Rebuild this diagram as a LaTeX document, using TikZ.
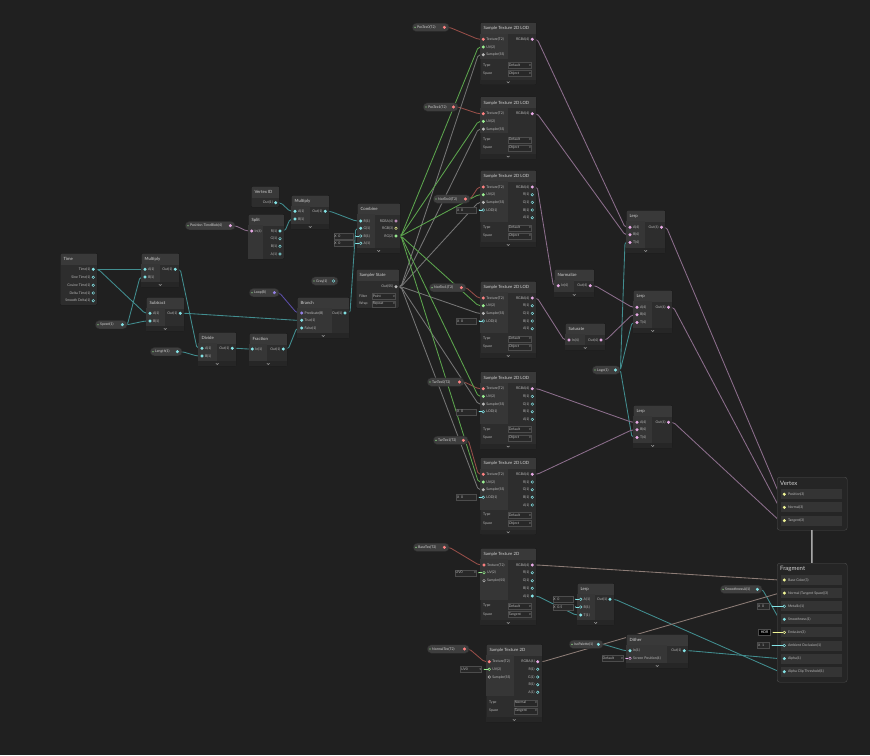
\documentclass[tikz,border=0pt]{standalone}
\usepackage{fontspec}
\setmainfont{Lato}
\newfontfamily\symfont{DejaVu Sans}
\usetikzlibrary{positioning}

\definecolor{bgcol}{RGB}{32,32,32}
\definecolor{nodebody}{RGB}{45,45,45}
\definecolor{nodehead}{RGB}{57,57,57}
\definecolor{inarea}{RGB}{54,54,54}
\definecolor{footfill}{RGB}{38,38,38}
\definecolor{labelgray}{RGB}{185,185,185}
\definecolor{titlegray}{RGB}{210,210,210}
\definecolor{pillfill}{RGB}{62,62,62}
\definecolor{fieldfill}{RGB}{40,40,40}
\definecolor{stackfill}{RGB}{37,37,37}
\definecolor{rowfill}{RGB}{52,52,52}
% port colours
\definecolor{pteal}{RGB}{132,228,231}
\definecolor{ppink}{RGB}{232,170,230}
\definecolor{pgreen}{RGB}{154,239,146}
\definecolor{pyel}{RGB}{240,245,150}
\definecolor{pred}{RGB}{255,130,130}
\definecolor{pgray}{RGB}{185,185,185}
\definecolor{ppurp}{RGB}{148,129,230}
% wire colours
\definecolor{wteal}{RGB}{66,142,144}
\definecolor{wpink}{RGB}{140,110,140}
\definecolor{wgreen}{RGB}{92,165,78}
\definecolor{wgray}{RGB}{118,118,118}
\definecolor{wred}{RGB}{150,78,72}
\definecolor{wpurp}{RGB}{92,78,168}
\definecolor{wolive}{RGB}{140,138,96}

\newcommand{\portfont}{\fontsize{3.5}{4}\selectfont}
\newcommand{\titlefont}{\fontsize{4.3}{5}\selectfont}
\newcommand{\stackfont}{\fontsize{6}{7}\selectfont}
\newcommand{\dropmark}{{\symfont\fontsize{2.8}{3}\selectfont ▾}}

\pgfdeclarelayer{back}
\pgfdeclarelayer{wires}
\pgfsetlayers{back,wires,main}

\tikzset{
  sgbody/.style={draw=black!90, fill=nodebody, inner sep=0pt, rounded corners=1.2pt, line width=0.4pt},
  sghead/.style={fill=nodehead, inner sep=0pt, minimum height=11},
  sgtitle/.style={font=\titlefont, text=titlegray, inner sep=0pt},
  port/.style={circle, fill=#1, draw=#1, line width=0.45pt, inner sep=0pt, minimum size=2.6},
  hport/.style={port=#1, fill=nodebody},
  plbl/.style={font=\portfont, text=labelgray, inner sep=0pt},
  pill/.style={rounded corners=4, fill=pillfill, draw=black!85, line width=0.4pt, minimum height=8.5, inner sep=0pt},
  field/.style={fill=fieldfill, draw=black!70, line width=0.3pt, inner sep=0.6pt, minimum height=6, font=\portfont, text=labelgray},
  stack/.style={fill=stackfill, draw=black!70, rounded corners=2.5pt, inner sep=0pt},
  row/.style={fill=rowfill, minimum width=60.5, minimum height=10, inner sep=0pt},
  wire/.style={draw=#1, line width=0.85pt, rounded corners=2pt,
    to path={-- ++(5,0) -- ([xshift=-5pt]\tikztotarget) -- (\tikztotarget)}}
}

% node: name, x, y, width, height, title
\newcommand{\sgnode}[6]{%
  \node[sgbody, minimum width=#4, minimum height=#5, anchor=north west] (#1) at (#2,#3) {};
  \node[sghead, minimum width=#4-0.8, anchor=north west] (#1-h) at ([shift={(0.4pt,-0.4pt)}]#1.north west) {};
  \node[sgtitle, right=3pt of #1-h.west] (#1-t) {#6};}
\newcommand{\sgin}[3]{%
  \fill[inarea] ([shift={(0.4pt,-11.4pt)}]#1.north west) rectangle ++(#2pt,-#3pt);}
\newcommand{\sgfoot}[1]{%
  \fill[footfill] ([shift={(0.4pt,5pt)}]#1.south west) rectangle ([shift={(-0.4pt,0.4pt)}]#1.south east);
  \draw[labelgray, line width=0.4pt] ([shift={(-1.4pt,3.2pt)}]#1.south) -- ([yshift=1.9pt]#1.south) -- ([shift={(1.4pt,3.2pt)}]#1.south);}
\newcommand{\pin}[5][port]{%
  \node[#1=#4] (#2) at (#3) {};
  \node[plbl, right=1.3pt of #2] (#2-l) {#5};}
\newcommand{\pout}[5][port]{%
  \node[#1=#4] (#2) at (#3) {};
  \node[plbl, left=1.3pt of #2] (#2-l) {#5};}
\newcommand{\sgbin}[4]{%
  \sgnode{#1}{#2}{#3}{38}{34}{#4}
  \sgin{#1}{19}{18}\sgfoot{#1}
  \pin{#1-a}{#2+4,#3+16.3}{pteal}{A(1)}
  \pin{#1-b}{#2+4,#3+24}{pteal}{B(1)}
  \pout{#1-o}{#2+34.3,#3+16.3}{pteal}{Out(1)}}
% property pill: style, name, x0, x1, y, colour, text
\newcommand{\prop}[7][port]{%
  \node[pill, minimum width=#4-#3, anchor=west] (#2-b) at (#3,#5) {};
  \fill[pgreen] ([xshift=3pt]#2-b.west) circle (0.7pt);
  \node[plbl, text=titlegray, right=5pt of #2-b.west] (#2-l) {#7};
  \node[#1=#6] (#2) at ([xshift=-5pt]#2-b.east) {};}
% inline field: port, text, width, colour, gap
\newcommand{\fld}[5]{%
  \node[field, anchor=east] (#1-f) at ([xshift=-#5pt]#1.west) {\makebox[#3pt][l]{#2}};
  \fill[#4] ([xshift=2.4pt]#1-f.east) circle (0.6pt);
  \draw[#4, line width=0.5pt] ([xshift=2.4pt]#1-f.east) -- (#1.west);}
\newcommand{\sgopt}[6]{%
  \node[plbl, anchor=west] at (#1,#3) {#4};
  \node[field, anchor=west] at (#2,#3) {\makebox[#6pt][l]{#5\hfill\dropmark}};}

\begin{document}
\begin{tikzpicture}[x=1pt,y=-1pt]

\useasboundingbox (0,0) rectangle (870,755);
\begin{pgfonlayer}{back}
  \fill[bgcol] (0,0) rectangle (870,755);
\end{pgfonlayer}

% time chain
\sgnode{time}{60}{253}{37}{52}{Time}
\pout{time-t}{93.3,269.3}{pteal}{Time(1)}
\pout[hport]{time-s}{93.3,277.3}{pteal}{Sine Time(1)}
\pout[hport]{time-c}{93.3,285.3}{pteal}{Cosine Time(1)}
\pout[hport]{time-d}{93.3,293}{pteal}{Delta Time(1)}
\pout[hport]{time-sd}{93.3,300.7}{pteal}{Smooth Delta(1)}

\sgbin{mulA}{141}{253}{Multiply}
\sgbin{sub}{146}{297}{Subtract}
\sgbin{div}{198}{332}{Divide}
\sgbin{mulB}{291}{195}{Multiply}

\sgnode{frac}{249}{333}{38}{33}{Fraction}
\sgin{frac}{18}{17}\sgfoot{frac}
\pin{frac-i}{252.3,349}{pteal}{In(1)}
\pout{frac-o}{283.3,349}{pteal}{Out(1)}

\sgnode{vid}{251}{186}{28}{21}{Vertex ID}
\pout{vid-o}{275.7,202.7}{pteal}{Out(1)}

\sgnode{split}{248}{214}{36}{45}{Split}
\sgin{split}{15}{33.6}
\pin{split-i}{251.7,231}{ppink}{In(4)}
\pout{split-r}{280,231}{pteal}{R(1)}
\pout[hport]{split-g}{280,238.7}{pteal}{G(1)}
\pout[hport]{split-b}{280,246.3}{pteal}{B(1)}
\pout[hport]{split-a}{280,254}{pteal}{A(1)}

\sgnode{comb}{357}{203}{43}{50}{Combine}
\sgin{comb}{18}{34}\sgfoot{comb}
\pin{comb-r}{360.7,221}{pteal}{R(1)}
\pin{comb-g}{360.7,228.3}{pteal}{G(1)}
\pin[hport]{comb-b}{360.7,236}{pteal}{B(1)}
\pin[hport]{comb-a}{360.7,243.3}{pteal}{A(1)}
\pout[hport]{comb-rgba}{396,221}{ppink}{RGBA(4)}
\pout[hport]{comb-rgb}{396,228.3}{pyel}{RGB(3)}
\pout{comb-rg}{396,236}{pgreen}{RG(2)}
\fld{comb-b}{X\enspace 0}{18}{pteal}{6}
\fld{comb-a}{X\enspace 0}{18}{pteal}{6}

\sgnode{samp}{356}{269}{43}{39}{Sampler State}
\pout{samp-o}{396,286.7}{pgray}{Out(SS)}
\sgopt{359}{372}{296.3}{Filter}{Point}{22}
\sgopt{359}{372}{304}{Wrap}{Repeat}{22}

\sgnode{branch}{297}{297}{52}{41}{Branch}
\sgin{branch}{35}{25}\sgfoot{branch}
\pin{branch-p}{301.7,313}{ppurp}{Predicate(B)}
\pin{branch-t}{301.7,320.3}{pteal}{True(1)}
\pin{branch-f}{301.7,328}{pteal}{False(1)}
\pout{branch-o}{345,313}{pteal}{Out(1)}

% properties
\prop{blob}{185}{235}{225.7}{ppink}{Position TimeBlob(4)}
\prop{speed}{95}{127}{324.7}{pteal}{Speed(1)}
\prop{len}{150}{182}{351.7}{pteal}{Length(1)}
\prop{loop}{249}{279}{292.7}{ppurp}{Loop(B)}
\prop[hport]{gray}{311}{338}{281}{pteal}{Gray(1)}
\prop{pos0}{412}{449}{27.3}{pred}{PosTex0(T2)}
\prop{pos1}{423}{458}{107}{pred}{PosTex1(T2)}
\prop{nor0}{433}{470}{199}{pred}{NorTex0(T2)}
\prop{nor1}{429}{466}{287.7}{pred}{NorTex1(T2)}
\prop{tan0}{427}{464}{382}{pred}{TanTex0(T2)}
\prop{tan1}{433}{468}{440.3}{pred}{TanTex1(T2)}
\prop{logo}{592}{620}{370}{pteal}{Logo(1)}
\prop{basep}{413}{449}{547.3}{pred}{BaseTex(T2)}
\prop{normp}{427}{469}{649}{pred}{NormalTex(T2)}
\prop{iso}{569}{603}{644.3}{pteal}{IsoPalette(1)}
\prop{smo}{720}{762}{589.3}{pteal}{SmoothnessA(1)}

% texture samplers
\foreach \n/\y in {t1/22.3, t2/96.7} {
  \sgnode{\n}{480}{\y}{56}{62}{Sample Texture 2D LOD}
  \sgin{\n}{28}{25}\sgfoot{\n}
  \pin{\n-tex}{483.3,\y+17}{pred}{Texture(T2)}
  \pin{\n-uv}{483.3,\y+24.7}{pgreen}{UV(2)}
  \pin{\n-ss}{483.3,\y+32.4}{pgray}{Sampler(SS)}
  \pout{\n-o}{532.3,\y+17}{ppink}{RGBA(4)}
  \sgopt{483}{508}{\y+43}{Type}{Default}{22}
  \sgopt{483}{508}{\y+51}{Space}{Object}{22}
}
\foreach \n/\y in {t3/170, t4/281, t5/371.7, t6/457.3} {
  \sgnode{\n}{480}{\y}{56}{77}{Sample Texture 2D LOD}
  \sgin{\n}{28}{41}\sgfoot{\n}
  \pin{\n-tex}{483.3,\y+17}{pred}{Texture(T2)}
  \pin{\n-uv}{483.3,\y+24.7}{pgreen}{UV(2)}
  \pin{\n-ss}{483.3,\y+32.4}{pgray}{Sampler(SS)}
  \pin[hport]{\n-lod}{483.3,\y+40}{pteal}{LOD(1)}
  \pout{\n-o}{532.3,\y+17}{ppink}{RGBA(4)}
  \pout[hport]{\n-r}{532.3,\y+24.7}{pteal}{R(1)}
  \pout[hport]{\n-g}{532.3,\y+32.4}{pteal}{G(1)}
  \pout[hport]{\n-b}{532.3,\y+40}{pteal}{B(1)}
  \pout[hport]{\n-a}{532.3,\y+47.7}{pteal}{A(1)}
  \fld{\n-lod}{X\enspace 0}{19}{pteal}{5}
  \sgopt{483}{508}{\y+57.7}{Type}{Default}{22}
  \sgopt{483}{508}{\y+66}{Space}{Object}{22}
}

\sgnode{norm}{554}{269}{40}{28}{Normalize}
\sgin{norm}{20}{12}\sgfoot{norm}
\pin{norm-i}{558.3,285.7}{ppink}{In(4)}
\pout{norm-o}{590.3,285.7}{ppink}{Out(4)}

\sgnode{sat}{565}{323}{40}{27}{Saturate}
\sgin{sat}{20}{11}\sgfoot{sat}
\pin{sat-i}{569,340}{ppink}{In(4)}
\pout{sat-o}{601,340}{ppink}{Out(4)}

\foreach \n/\x/\y in {lerpA/626/210, lerpB/633/290, lerpC/633/405} {
  \sgnode{\n}{\x}{\y}{39}{43}{Lerp}
  \sgin{\n}{19}{27}\sgfoot{\n}
  \pin{\n-a}{\x+4,\y+17.3}{ppink}{A(4)}
  \pin{\n-b}{\x+4,\y+24.8}{ppink}{B(4)}
  \pin{\n-t}{\x+4,\y+32.4}{ppink}{T(4)}
  \pout{\n-o}{\x+35.5,\y+17.3}{ppink}{Out(4)}
}

% fragment inputs
\sgnode{base}{480}{548}{56}{77}{Sample Texture 2D}
\sgin{base}{28}{41}\sgfoot{base}
\pin{base-tex}{484,565}{pred}{Texture(T2)}
\pin[hport]{base-uv}{484,572.7}{pgreen}{UV(2)}
\pin[hport]{base-ss}{484,580.7}{pgray}{Sampler(SS)}
\pout{base-rgba}{532.3,565}{ppink}{RGBA(4)}
\pout[hport]{base-r}{532.3,572.7}{pteal}{R(1)}
\pout[hport]{base-g}{532.3,580.7}{pteal}{G(1)}
\pout[hport]{base-b}{532.3,588.3}{pteal}{B(1)}
\pout{base-a}{532.3,596}{pteal}{A(1)}
\fld{base-uv}{UV0\hfill\dropmark}{20}{pgreen}{6}
\sgopt{483}{508}{606}{Type}{Default}{22}
\sgopt{483}{508}{614.3}{Space}{Tangent}{22}

\sgnode{ntex}{486}{644}{56}{78}{Sample Texture 2D}
\sgin{ntex}{28}{41}\sgfoot{ntex}
\pin{ntex-tex}{489.3,661.7}{pred}{Texture(T2)}
\pin[hport]{ntex-uv}{489.3,669.3}{pgreen}{UV(2)}
\pin[hport]{ntex-ss}{489.3,677}{pgray}{Sampler(SS)}
\pout{ntex-rgba}{537.7,661.7}{ppink}{RGBA(4)}
\pout[hport]{ntex-r}{537.7,669.3}{pteal}{R(1)}
\pout[hport]{ntex-g}{537.7,677}{pteal}{G(1)}
\pout[hport]{ntex-b}{537.7,684.7}{pteal}{B(1)}
\pout[hport]{ntex-a}{537.7,692.3}{pteal}{A(1)}
\fld{ntex-uv}{UV0\hfill\dropmark}{20}{pgreen}{6}
\sgopt{489}{514}{702.7}{Type}{Normal}{22}
\sgopt{489}{514}{710.7}{Space}{Tangent}{22}

\sgnode{lerpD}{577}{583}{37}{42}{Lerp}
\sgin{lerpD}{18}{26}\sgfoot{lerpD}
\pin[hport]{lerpD-a}{580.7,599.3}{pteal}{A(1)}
\pin[hport]{lerpD-b}{580.7,607}{pteal}{B(1)}
\pin{lerpD-t}{580.7,615}{pteal}{T(1)}
\pout{lerpD-o}{610,599.3}{pteal}{Out(1)}
\fld{lerpD-a}{X\enspace 0}{19}{pteal}{6}
\fld{lerpD-b}{X\enspace 0.5}{19}{pteal}{6}

\sgnode{dith}{626}{634}{62}{34}{Dither}
\sgin{dith}{41}{18}\sgfoot{dith}
\pin{dith-i}{630,650.7}{pteal}{In(1)}
\pin[hport]{dith-sp}{630,658.3}{ppink}{Screen Position(4)}
\pout{dith-o}{684.3,650.7}{pteal}{Out(1)}
\fld{dith-sp}{Default\hfill\dropmark}{20}{ppink}{5}

% master stack
\node[stack, minimum width=70, minimum height=53, anchor=north west] (vtx) at (777,477) {};
\node[font=\stackfont, text=titlegray, inner sep=0pt, anchor=west] (vtx-t) at (780,483.3) {Vertex};
\foreach \key/\lbl [count=\i] in {pos/Position(3), nor/Normal(3), tan/Tangent(3)} {
  \node[row, anchor=west] (v-\key-r) at (781,481+13.2*\i) {};
  \node[port=pyel] (v-\key) at (784.3,481+13.2*\i) {};
  \node[plbl, right=2pt of v-\key] (v-\key-l) {\lbl};
}
\node[stack, minimum width=70, minimum height=119, anchor=north west] (frag) at (777,563) {};
\node[font=\stackfont, text=titlegray, inner sep=0pt, anchor=west] (frag-t) at (780,569.3) {Fragment};
\foreach \key/\lbl/\pc/\fc [count=\i] in {base/Base Color(3)/pyel/pyel,
    normal/Normal (Tangent Space)(3)/pyel/pyel, metal/Metallic(1)/pteal/rowfill,
    smooth/Smoothness(1)/pteal/pteal, emis/Emission(3)/pyel/rowfill,
    ao/Ambient Occlusion(1)/pteal/rowfill, alpha/Alpha(1)/pteal/pteal,
    clip/Alpha Clip Threshold(1)/pteal/pteal} {
  \node[row, anchor=west] (f-\key-r) at (781,566.9+13.1*\i) {};
  \node[port=\pc, fill=\fc] (f-\key) at (784.3,566.9+13.1*\i) {};
  \node[plbl, right=2pt of f-\key] (f-\key-l) {\lbl};
}
\fld{f-metal}{X\enspace 0}{11}{pteal}{13}
\fld{f-ao}{X\enspace 1}{11}{pteal}{13}
\node[field, fill=black, text=white, anchor=east] (f-emis-f) at ([xshift=-12pt]f-emis.west) {\makebox[11pt]{HDR}};
\fill[pyel] ([xshift=2.4pt]f-emis-f.east) circle (0.6pt);
\draw[pyel, line width=0.5pt] ([xshift=2.4pt]f-emis-f.east) -- (f-emis.west);
\draw[gray!70, line width=0.5pt, double=black!50, double distance=1.1pt] (vtx.south) -- (frag.north);

% connectors
\begin{pgfonlayer}{wires}
\foreach \src/\dst in {time-t/mulA-a, time-t/sub-a, speed/mulA-b, speed/sub-b,
    mulA-o/div-a, len/div-b, div-o/frac-i, sub-o/branch-t, frac-o/branch-f,
    vid-o/mulB-a, split-r/mulB-b, mulB-o/comb-r, branch-o/comb-g,
    logo/lerpA-t, logo/lerpB-t, logo/lerpC-t, base-a/lerpD-t,
    lerpD-o/f-clip, iso/dith-i, dith-o/f-alpha, smo/f-smooth}
  \draw[wire=wteal] (\src.center) to (\dst.center);
\foreach \src/\dst in {blob/split-i, t1-o/lerpA-a, t2-o/lerpA-b, t3-o/norm-i,
    t4-o/sat-i, norm-o/lerpB-a, sat-o/lerpB-b, t5-o/lerpC-a, t6-o/lerpC-b,
    lerpA-o/v-pos, lerpB-o/v-nor, lerpC-o/v-tan}
  \draw[wire=wpink] (\src.center) to (\dst.center);
\draw[wire=wpink!50!wolive] (base-rgba.center) to (f-base.center);
\draw[wire=wpink!50!wolive] (ntex-rgba.center) to (f-normal.center);
\draw[wire=wpurp] (loop.center) to (branch-p.center);
\foreach \src/\dst in {pos0/t1-tex, pos1/t2-tex, nor0/t3-tex, nor1/t4-tex,
    tan0/t5-tex, tan1/t6-tex, basep/base-tex, normp/ntex-tex}
  \draw[wire=wred] (\src.center) to (\dst.center);
\foreach \n in {t1,t2,t3,t4,t5,t6} {
  \draw[wire=wgreen] (comb-rg.center) to (\n-uv.center);
  \draw[wire=wgray] (samp-o.center) to (\n-ss.center);
}
\end{pgfonlayer}

\end{tikzpicture}
\end{document}
